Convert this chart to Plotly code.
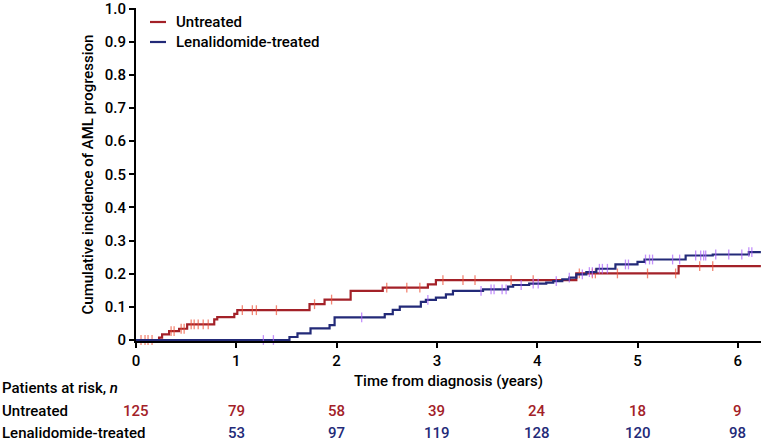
import numpy as np
import plotly.graph_objects as go

# ---------------- data ----------------
untreated_t = [0, 0.23, 0.26, 0.33, 0.43, 0.51, 0.78, 0.81, 0.98, 1.01, 1.73, 1.88, 2.14, 2.46, 2.91, 2.99, 4.39, 5.41, 6.23]
untreated_v = [0, 0.007, 0.017, 0.027, 0.034, 0.047, 0.062, 0.069, 0.079, 0.090, 0.108, 0.122, 0.148, 0.158, 0.168, 0.181, 0.201, 0.223, 0.223]
untreated_cens = [0.05, 0.09, 0.12, 0.16, 0.35, 0.38, 0.45, 0.48, 0.55, 0.58, 0.62, 0.67, 0.72, 1.06, 1.16, 1.2, 1.4,
                  1.78, 1.95, 2.5, 2.7, 2.83, 3.06, 3.26, 3.38, 3.74, 3.96, 4.42, 4.55, 4.58, 4.8, 5.1, 5.38, 5.62, 5.75]

lena_t = [0, 1.53, 1.61, 1.74, 1.93, 1.98, 2.48, 2.56, 2.63, 2.84, 2.89, 2.99, 3.09, 3.16, 3.46, 3.71, 3.76, 3.92,
          4.09, 4.16, 4.25, 4.32, 4.39, 4.49, 4.59, 4.78, 5.0, 5.07, 5.48, 5.75, 6.11, 6.23]
lena_v = [0, 0.009, 0.02, 0.035, 0.045, 0.068, 0.078, 0.091, 0.101, 0.115, 0.121, 0.128, 0.138, 0.148, 0.153, 0.161,
          0.166, 0.170, 0.173, 0.178, 0.183, 0.188, 0.198, 0.205, 0.215, 0.228, 0.236, 0.243, 0.255, 0.258, 0.265, 0.265]
lena_cens = [1.27, 1.37, 2.25, 2.91, 3.44, 3.54, 3.57, 3.65, 3.69, 3.84, 3.96, 4.01, 4.19, 4.32, 4.45, 4.52, 4.55,
             4.62, 4.65, 4.7, 4.88, 4.91, 5.08, 5.12, 5.15, 5.35, 5.42, 5.58, 5.63, 5.66, 5.68, 5.78, 5.91, 6.04, 6.11, 6.14]

risk_years = [0, 1, 2, 3, 4, 5, 6]
risk_untreated = ["125", "79", "58", "39", "24", "18", "9"]
risk_lena = ["", "53", "97", "119", "128", "120", "98"]

y_ticks = [0, 0.1, 0.2, 0.3, 0.4, 0.5, 0.6, 0.7, 0.8, 0.9, 1.0]
y_ticktext = ["0", "0.1", "0.2", "0.3", "0.4", "0.5", "0.6", "0.7", "0.8", "0.9", "1.0"]
x_ticks = [0, 1, 2, 3, 4, 5, 6]

RED = "#A32128"
BLUE = "#232A78"
FONT = "Roboto, Liberation Sans, Arial, sans-serif"
FW = 500
FS = 15


def step_at(ts, vs, times):
    ts = np.asarray(ts)
    vs = np.asarray(vs)
    idx = np.searchsorted(ts, np.asarray(times), side="right") - 1
    return vs[idx]


def fnt(color="black"):
    return dict(size=FS, color=color, family=FONT, weight=FW)


fig = go.Figure()
for t, v, cens, col in [(untreated_t, untreated_v, untreated_cens, RED),
                        (lena_t, lena_v, lena_cens, BLUE)]:
    fig.add_trace(go.Scatter(x=t, y=v, mode="lines", line=dict(color=col, width=2.2, shape="hv"),
                             showlegend=False, hoverinfo="skip"))
    fig.add_trace(go.Scatter(x=cens, y=step_at(t, v, cens), mode="markers",
                             marker=dict(symbol="line-ns-open", size=7, line=dict(color=col, width=1.3)),
                             opacity=0.7, showlegend=False, hoverinfo="skip", cliponaxis=False))

# plot area geometry (pixels)
L, R, T, B = 136, 0, 8, 103
W = 761 - L - R
H = 444 - T - B


def px(xp):
    return (xp - L) / W


def py(yp):
    return (444 - B - yp) / H


# manual legend
for yy, name, col in [(22, "Untreated", RED), (42, "Lenalidomide-treated", BLUE)]:
    fig.add_shape(type="line", xref="paper", yref="paper", x0=px(150), x1=px(166), y0=py(yy), y1=py(yy),
                  line=dict(color=col, width=2.2))
    fig.add_annotation(xref="paper", yref="paper", x=px(174), y=py(yy), text=name, showarrow=False,
                       xanchor="left", yanchor="middle", font=fnt())

# risk table
for yy, txt in [(388, "Patients at risk, <i>n</i>"), (411, "Untreated"), (433, "Lenalidomide-treated")]:
    fig.add_annotation(xref="paper", yref="paper", x=px(0), y=py(yy), text=txt,
                       showarrow=False, xanchor="left", yanchor="middle", font=fnt())
for yr, a, b in zip(risk_years, risk_untreated, risk_lena):
    fig.add_annotation(xref="x", yref="paper", x=yr, y=py(411), text=a, showarrow=False,
                       xanchor="center", yanchor="middle", font=fnt(RED))
    if b:
        fig.add_annotation(xref="x", yref="paper", x=yr, y=py(433), text=b, showarrow=False,
                           xanchor="center", yanchor="middle", font=fnt(BLUE))

fig.update_layout(
    width=761, height=444,
    margin=dict(l=L, r=R, t=T, b=B, autoexpand=False),
    paper_bgcolor="white", plot_bgcolor="white",
    font=fnt(),
    xaxis=dict(range=[0, W / 100.3], tickvals=x_ticks, showgrid=False, zeroline=False, automargin=False,
               showline=True, linecolor="black", linewidth=2, ticks="outside", ticklen=5, tickwidth=2,
               tickcolor="black", tickfont=fnt(), ticklabeloverflow="allow",
               title=dict(text="Time from diagnosis (years)", standoff=6, font=fnt())),
    yaxis=dict(range=[-0.003, 1.002], tickvals=y_ticks, ticktext=y_ticktext, showgrid=False, zeroline=False,
               automargin=False, ticklabeloverflow="allow",
               showline=True, linecolor="black", linewidth=2, ticks="outside", ticklen=5, tickwidth=2,
               tickcolor="black", tickfont=fnt(),
               title=dict(text="Cumulative incidence of AML progression", standoff=8, font=fnt())),
)

fig.write_html("out.html", config={"displayModeBar": False},
               post_script="document.body.style.margin='0';document.body.style.overflow='hidden';")
